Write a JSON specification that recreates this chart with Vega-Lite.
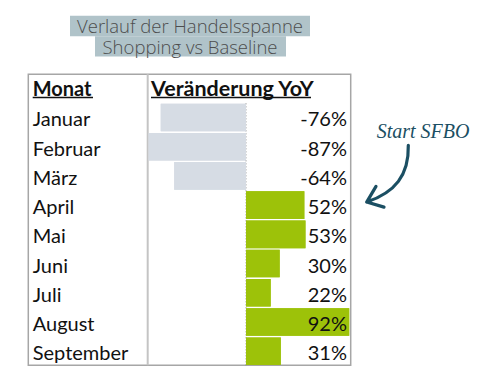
{
  "$schema": "https://vega.github.io/schema/vega-lite/v6.json",
  "width": 478,
  "height": 382,
  "autosize": {"type": "fit", "contains": "padding"},
  "padding": 0,
  "background": "white",
  "config": {
    "view": {"stroke": null},
    "axis": {"disable": true},
    "locale": {"number": {"decimal": ",", "thousands": ".", "grouping": [3], "currency": ["", " €"], "minus": "-"}}
  },
  "data": {"values": [
    {"Monat": "Januar", "Wert": -0.76, "Zeile": 1},
    {"Monat": "Februar", "Wert": -0.87, "Zeile": 2},
    {"Monat": "März", "Wert": -0.64, "Zeile": 3},
    {"Monat": "April", "Wert": 0.52, "Zeile": 4},
    {"Monat": "Mai", "Wert": 0.53, "Zeile": 5},
    {"Monat": "Juni", "Wert": 0.30, "Zeile": 6},
    {"Monat": "Juli", "Wert": 0.22, "Zeile": 7},
    {"Monat": "August", "Wert": 0.92, "Zeile": 8},
    {"Monat": "September", "Wert": 0.31, "Zeile": 9}
  ]},
  "layer": [
    {
      "mark": {"type": "bar", "orient": "horizontal", "height": 27.6},
      "encoding": {
        "x": {"field": "Wert", "type": "quantitative", "scale": {"domain": [-2.1925, 2.0677], "nice": false, "zero": false}},
        "x2": {"datum": 0},
        "y": {"field": "Zeile", "type": "quantitative", "scale": {"domain": [-2.85, 9.8833], "reverse": true, "nice": false, "zero": false}},
        "color": {"condition": {"test": "datum.Wert < 0", "value": "#D6DCE4"}, "value": "#9DC209"}
      }
    },
    {
      "data": {"values": [{}]},
      "mark": {"type": "rect", "color": "#B0C3C9"},
      "encoding": {
        "x": {"datum": -1.5686, "type": "quantitative"}, "x2": {"datum": 0.5704},
        "y": {"datum": -2.4833, "type": "quantitative"}, "y2": {"datum": -1.7833}
      }
    },
    {
      "data": {"values": [{}]},
      "mark": {"type": "rect", "color": "#B0C3C9"},
      "encoding": {
        "x": {"datum": -1.3458, "type": "quantitative"}, "x2": {"datum": 0.3565},
        "y": {"datum": -1.7833, "type": "quantitative"}, "y2": {"datum": -1.0833}
      }
    },
    {
      "data": {"values": [{}]},
      "mark": {"type": "text", "text": "Verlauf der Handelsspanne", "font": "Open Sans", "fontWeight": 300, "fontSize": 18.5, "color": "#4D4D4D", "align": "center", "baseline": "middle"},
      "encoding": {"x": {"datum": -0.4991, "type": "quantitative"}, "y": {"datum": -2.0867, "type": "quantitative"}}
    },
    {
      "data": {"values": [{}]},
      "mark": {"type": "text", "text": "Shopping vs Baseline", "font": "Open Sans", "fontWeight": 300, "fontSize": 18.5, "color": "#4D4D4D", "align": "center", "baseline": "middle"},
      "encoding": {"x": {"datum": -0.4991, "type": "quantitative"}, "y": {"datum": -1.3633, "type": "quantitative"}}
    },
    {
      "data": {"values": [{}]},
      "mark": {"type": "rect", "fill": null, "fillOpacity": 0, "stroke": "#A6A6A6", "strokeWidth": 1.5},
      "encoding": {
        "x": {"datum": -1.9403, "type": "quantitative"}, "x2": {"datum": 0.9332},
        "y": {"datum": -0.4833, "type": "quantitative"}, "y2": {"datum": 9.4833}
      }
    },
    {
      "data": {"values": [{}]},
      "mark": {"type": "rule", "color": "#C4C4C4", "strokeWidth": 2},
      "encoding": {
        "x": {"datum": -0.8761, "type": "quantitative"},
        "y": {"datum": -0.4833, "type": "quantitative"}, "y2": {"datum": 9.4833}
      }
    },
    {
      "data": {"values": [{}]},
      "mark": {"type": "rule", "color": "#808080", "strokeWidth": 1, "strokeDash": [1, 2]},
      "encoding": {
        "x": {"datum": 0, "type": "quantitative"},
        "y": {"datum": 0.5167, "type": "quantitative"}, "y2": {"datum": 9.4833}
      }
    },
    {
      "mark": {"type": "bar", "orient": "horizontal", "height": 27.6},
      "encoding": {
        "x": {"field": "Wert", "type": "quantitative"},
        "x2": {"datum": 0},
        "y": {"field": "Zeile", "type": "quantitative"},
        "color": {"condition": {"test": "datum.Wert < 0", "value": "#D6DCE4"}, "value": "#9DC209"}
      }
    },
    {
      "mark": {"type": "text", "font": "Lato", "fontSize": 20, "color": "#111111", "align": "left", "baseline": "middle", "dy": 3},
      "encoding": {
        "x": {"datum": -1.9011, "type": "quantitative"},
        "y": {"field": "Zeile", "type": "quantitative"},
        "text": {"field": "Monat"}
      }
    },
    {
      "mark": {"type": "text", "font": "Lato", "fontSize": 20, "color": "#111111", "align": "right", "baseline": "middle", "dy": 3},
      "encoding": {
        "x": {"datum": 0.9002, "type": "quantitative"},
        "y": {"field": "Zeile", "type": "quantitative"},
        "text": {"field": "Wert", "format": ".0%"}
      }
    },
    {
      "data": {"values": [{}]},
      "mark": {"type": "text", "text": "Monat", "font": "Lato", "fontWeight": "bold", "fontSize": 20, "color": "#111111", "align": "left", "baseline": "middle", "dy": 1.5},
      "encoding": {"x": {"datum": -1.9011, "type": "quantitative"}, "y": {"datum": 0, "type": "quantitative"}}
    },
    {
      "data": {"values": [{}]},
      "mark": {"type": "text", "text": "Veränderung YoY", "font": "Lato", "fontWeight": "bold", "fontSize": 21.5, "color": "#111111", "align": "left", "baseline": "middle", "dy": 1.5},
      "encoding": {"x": {"datum": -0.8467, "type": "quantitative"}, "y": {"datum": 0, "type": "quantitative"}}
    },
    {
      "data": {"values": [{}]},
      "mark": {"type": "rule", "color": "#111111", "strokeWidth": 1.6},
      "encoding": {
        "x": {"datum": -1.9011, "type": "quantitative"}, "x2": {"datum": -1.3636},
        "y": {"datum": 0.3167, "type": "quantitative"}
      }
    },
    {
      "data": {"values": [{}]},
      "mark": {"type": "rule", "color": "#111111", "strokeWidth": 1.6},
      "encoding": {
        "x": {"datum": -0.8467, "type": "quantitative"}, "x2": {"datum": 0.5793},
        "y": {"datum": 0.3167, "type": "quantitative"}
      }
    },
    {
      "data": {"values": [{}]},
      "mark": {"type": "text", "text": "Start SFBO", "font": "Liberation Serif", "fontStyle": "italic", "fontSize": 20, "color": "#1B4F63", "align": "left", "baseline": "alphabetic"},
      "encoding": {"x": {"datum": 1.1649, "type": "quantitative"}, "y": {"datum": 1.7067, "type": "quantitative"}}
    },
    {
      "data": {"values": [{}]},
      "mark": {"type": "point", "shape": "M0.58,-0.886 C0.6,-0.029 0.2,0.457 -0.609,0.734 M-0.343,0.286 L-0.609,0.734 L-0.114,0.877", "size": 4900, "filled": false, "fill": null, "stroke": "#1B4F63", "strokeWidth": 3.2, "strokeCap": "round", "strokeJoin": "round", "opacity": 1},
      "encoding": {"x": {"datum": 1.2656, "type": "quantitative"}, "y": {"datum": 3.0167, "type": "quantitative"}}
    }
  ]
}
